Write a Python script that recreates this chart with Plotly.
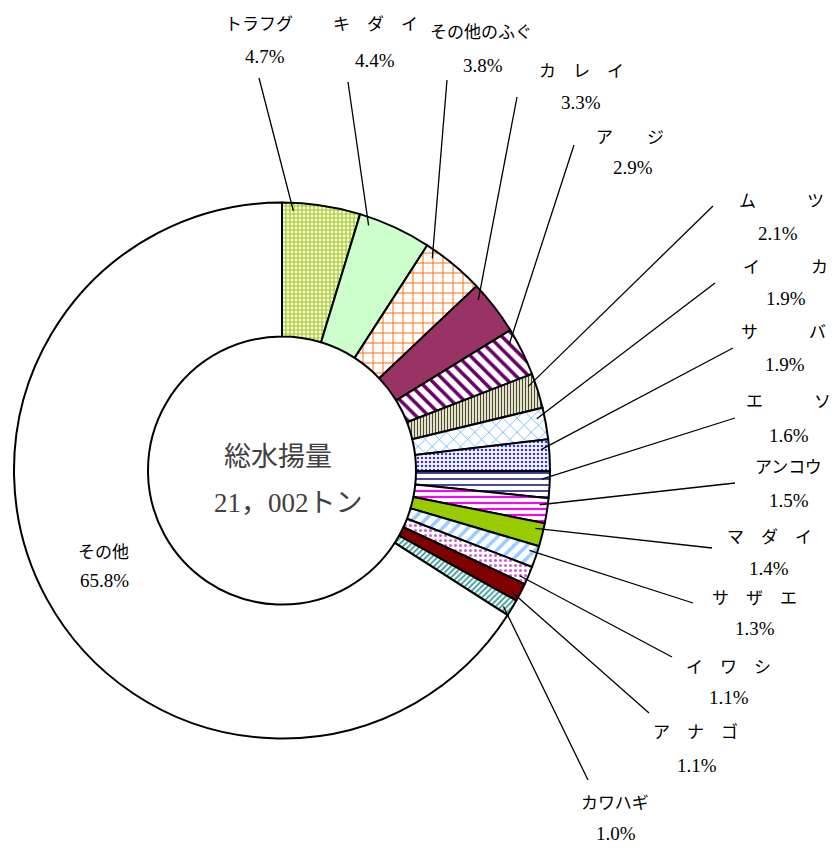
import math
import plotly.graph_objects as go

# ---------------- data ----------------
names = ["トラフグ", "キ　ダ　イ", "その他のふぐ", "カ　レ　イ", "ア　　ジ",
         "ム　　　ツ", "イ　　　カ", "サ　　　バ", "エ　　　ソ", "アンコウ",
         "マ　ダ　イ", "サ　ザ　エ", "イ　ワ　シ", "ア　ナ　ゴ", "カワハギ", "その他"]
shares = [4.7, 4.4, 3.8, 3.3, 2.9, 2.1, 1.9, 1.9, 1.6, 1.5, 1.4, 1.3, 1.1, 1.1, 1.0, 65.8]
center_title = "総水揚量"
center_total = "21，002トン"

# ---------------- styles ----------------
bg_colors = ["#ffffff", "#ccffcc", "#ffffff", "#993366", "#ffffff", "#ffffff",
             "#ffffff", "#ffffff", "#ffffff", "#ffffff", "#99cc00", "#ffffff",
             "#ffffff", "#800000", "#ffffff", "#ffffff"]
pat_shapes = ["+", "", "+", "", "\\", "|", "x", ".", "-", "-", "", "/", ".", "", "/", ""]
pat_fg = ["#99cc00", "#ccffcc", "#ff6600", "#993366", "#660066", "#4d4d1a",
          "#3399ff", "#3333ff", "#333399", "#ff00ff", "#99cc00", "#99ccff",
          "#cc66cc", "#800000", "#339999", "#ffffff"]
pat_size = [4, 8, 10, 8, 9, 3, 10, 4, 6, 6, 8, 9, 5, 8, 4, 8]
pat_sol = [0.5, 0.3, 0.18, 0.3, 0.4, 0.45, 0.12, 0.35, 0.3, 0.35, 0.3, 0.4, 0.3, 0.3, 0.45, 0.3]

W, H = 837, 848
OFF = 8  # default page body margin
CX, CY, R = 282.0, 470.5, 268.0
FONT = "Liberation Serif, Noto Sans CJK JP, serif"

# label layout (pixels in the screenshot)
name_pos = [(259, 25), (375, 25), (481, 33), (581, 72), (630, 137), (781, 202),
            (785, 267), (783, 333), (788, 402), (788, 467), (769, 537), (754, 598),
            (728, 667), (695, 732), (615, 803), (103, 552)]
pct_pos = [(265, 57), (375, 60), (483, 65), (581, 102), (633, 168), (778, 233),
           (786, 298), (785, 365), (789, 435), (789, 500), (769, 568), (755, 628),
           (729, 697), (697, 765), (616, 833), (104, 580)]
line_tail = [(259, 78), (348, 82), (447, 80), (517, 97), (574, 145), (713, 206),
             (715, 283), (733, 348), (735, 418), (735, 483), (712, 548), (693, 603),
             (672, 657), (649, 713), (588, 780), None]


def px(x):
    return (x - OFF) / W


def py(y):
    return 1 - (y - OFF) / H


fig = go.Figure()
fig.add_trace(go.Pie(
    labels=names, values=shares, sort=False, direction="clockwise", rotation=0,
    hole=0.5, textinfo="none", hoverinfo="label+percent", showlegend=False,
    marker=dict(colors=bg_colors, line=dict(color="black", width=2),
                pattern=dict(shape=pat_shapes, fgcolor=pat_fg, bgcolor=bg_colors,
                             size=pat_size, solidity=pat_sol, fillmode="overlay",
                             fgopacity=1)),
    domain=dict(x=[px(CX - R), px(CX + R)], y=[py(CY + R), py(CY - R)]),
))

annotations = []
shapes = []
total = sum(shares)
cum = 0.0
for i, (nm, v) in enumerate(zip(names, shares)):
    a0 = cum / total * 360
    cum += v
    a1 = cum / total * 360
    annotations.append(dict(x=px(name_pos[i][0]), y=py(name_pos[i][1]), xref="paper", yref="paper",
                            text=nm, showarrow=False, xanchor="center", yanchor="middle",
                            font=dict(family=FONT, size=17, color="black")))
    annotations.append(dict(x=px(pct_pos[i][0]), y=py(pct_pos[i][1]), xref="paper", yref="paper",
                            text=f"{v:.1f}%", showarrow=False, xanchor="center", yanchor="middle",
                            font=dict(family=FONT, size=19, color="black")))
    tail = line_tail[i]
    if tail is None:
        continue
    tx, ty = tail
    mid = (a0 + a1) / 2
    half = (a1 - a0) / 2
    ang_tail = math.degrees(math.atan2(tx - CX, CY - ty))
    diff = ((ang_tail - mid + 180) % 360) - 180
    d = min(2.5, 0.3 * (a1 - a0))
    lim = max(half - d, 0)
    th = mid + max(-lim, min(lim, diff))
    rr = 0.97 * R
    ex = CX + rr * math.sin(math.radians(th))
    ey = CY - rr * math.cos(math.radians(th))
    shapes.append(dict(type="line", xref="paper", yref="paper",
                       x0=px(tx), y0=py(ty), x1=px(ex), y1=py(ey),
                       line=dict(color="black", width=1.3)))

annotations.append(dict(x=px(278), y=py(457), xref="paper", yref="paper", text=center_title,
                        showarrow=False, xanchor="center", yanchor="middle",
                        font=dict(family=FONT, size=27, color="#404040")))
annotations.append(dict(x=px(288), y=py(503), xref="paper", yref="paper", text=center_total,
                        showarrow=False, xanchor="center", yanchor="middle",
                        font=dict(family=FONT, size=27, color="#404040")))

fig.update_layout(width=W, height=H, margin=dict(l=0, r=0, t=0, b=0),
                  paper_bgcolor="white", plot_bgcolor="white",
                  annotations=annotations, shapes=shapes)
fig.write_html("out.html")
